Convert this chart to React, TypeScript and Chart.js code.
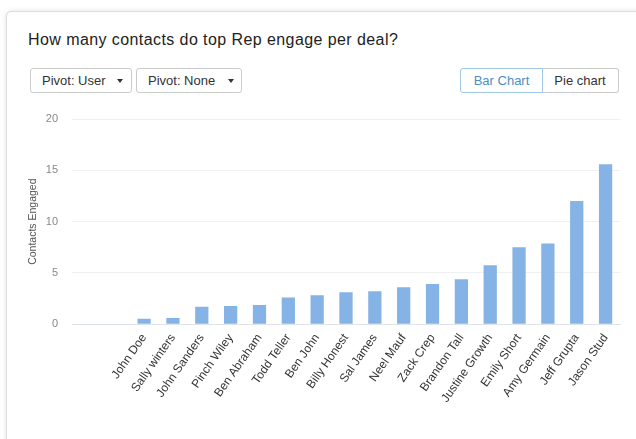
import React, { useEffect, useRef } from "react";
import { Chart, registerables } from "chart.js";

Chart.register(...registerables);

const categories: string[] = [
  "",
  "",
  "John Doe",
  "Sally winters",
  "John Sanders",
  "Pinch Wiley",
  "Ben Abraham",
  "Todd Teller",
  "Ben John",
  "Billy Honest",
  "Sal James",
  "Neel Mauf",
  "Zack Crep",
  "Brandon Tall",
  "Justine Growth",
  "Emily Short",
  "Amy Germain",
  "Jeff Grupta",
  "Jason Stud",
];

const contactsEngaged: (number | null)[] = [
  null, null, 0.55, 0.62, 1.7, 1.78, 1.87, 2.6, 2.83, 3.12, 3.22, 3.6, 3.93, 4.39, 5.76, 7.5, 7.87, 12.0, 15.6,
];

const yTickValues: number[] = [0, 5, 10, 15, 20];

const FONT = "'Liberation Sans', Arial, Helvetica, sans-serif";

function Caret({ left }: { left: number }) {
  return (
    <div
      style={{
        position: "absolute",
        left,
        top: 10,
        width: 0,
        height: 0,
        borderLeft: "3.5px solid transparent",
        borderRight: "3.5px solid transparent",
        borderTop: "4px solid #333",
      }}
    />
  );
}

export default function App() {
  const canvasRef = useRef<HTMLCanvasElement | null>(null);

  useEffect(() => {
    if (!canvasRef.current) return;
    const chart = new Chart(canvasRef.current, {
      type: "bar",
      data: {
        labels: categories,
        datasets: [
          {
            label: "Contacts Engaged",
            data: contactsEngaged,
            backgroundColor: "#86b3e5",
            borderWidth: 0,
            barPercentage: 0.46,
            categoryPercentage: 1,
          },
        ],
      },
      options: {
        animation: false,
        responsive: false,
        maintainAspectRatio: false,
        events: [],
        layout: { padding: { left: 23, right: 16, top: 119, bottom: 0 } },
        plugins: {
          legend: { display: false },
          tooltip: { enabled: false },
        },
        scales: {
          x: {
            grid: { display: false, drawTicks: false },
            border: { display: true, color: "#dde3ea", width: 1 },
            ticks: {
              autoSkip: false,
              minRotation: 55,
              maxRotation: 55,
              padding: 7,
              color: "#333",
              font: { family: FONT, size: 12 },
            },
            afterFit: (scale: any) => {
              scale.height = 114.7;
            },
          },
          y: {
            min: 0,
            max: 20,
            afterBuildTicks: (scale: any) => {
              scale.ticks = yTickValues.map((v) => ({ value: v }));
            },
            grid: { color: "#eef0f2", drawTicks: false },
            border: { display: false },
            ticks: {
              padding: 14,
              color: "#888",
              font: { family: FONT, size: 11 },
            },
            title: {
              display: true,
              text: "Contacts Engaged",
              color: "#555",
              font: { family: FONT, size: 10.5 },
              padding: { top: 4, bottom: 4 },
            },
            afterFit: (scale: any) => {
              scale.width = 49;
            },
          },
        },
      } as any,
    });
    return () => chart.destroy();
  }, []);

  const btnBase: React.CSSProperties = {
    position: "absolute",
    top: 68,
    height: 25,
    boxSizing: "border-box",
    border: "1px solid #ccc",
    borderRadius: 3,
    background: "#fff",
    fontFamily: FONT,
    fontSize: 13,
    color: "#333",
    lineHeight: "23px",
  };

  return (
    <div
      style={{
        position: "fixed",
        left: 0,
        top: 0,
        width: 636,
        height: 439,
        overflow: "hidden",
        background: "#fff",
      }}
    >
      <div
        style={{
          position: "absolute",
          left: 6,
          top: 11,
          width: 700,
          height: 520,
          boxSizing: "border-box",
          border: "1px solid #dcdcdc",
          borderRadius: 5,
          boxShadow: "0 0 5px rgba(0,0,0,0.12)",
          background: "#fff",
        }}
      />
      <div
        style={{
          position: "absolute",
          left: 28,
          top: 30,
          fontFamily: FONT,
          fontSize: 16,
          letterSpacing: "0.42px",
          color: "#222",
          lineHeight: "20px",
          whiteSpace: "nowrap",
        }}
      >
        How many contacts do top Rep engage per deal?
      </div>

      <div style={{ ...btnBase, left: 30, width: 102 }}>
        <span style={{ position: "absolute", left: 11 }}>Pivot: User</span>
        <Caret left={86} />
      </div>
      <div style={{ ...btnBase, left: 136, width: 106 }}>
        <span style={{ position: "absolute", left: 11 }}>Pivot: None</span>
        <Caret left={91} />
      </div>

      <div
        style={{
          ...btnBase,
          left: 460,
          width: 83,
          borderColor: "#9fc8e6",
          borderRadius: "3px 0 0 3px",
          color: "#4a8fc7",
          textAlign: "center",
          zIndex: 2,
        }}
      >
        Bar Chart
      </div>
      <div
        style={{
          ...btnBase,
          left: 542,
          width: 77,
          borderLeft: "none",
          borderRadius: "0 3px 3px 0",
          textAlign: "center",
        }}
      >
        Pie chart
      </div>

      <canvas
        ref={canvasRef}
        width={636}
        height={439}
        style={{ position: "absolute", left: 0, top: 0, width: 636, height: 439 }}
      />
    </div>
  );
}
